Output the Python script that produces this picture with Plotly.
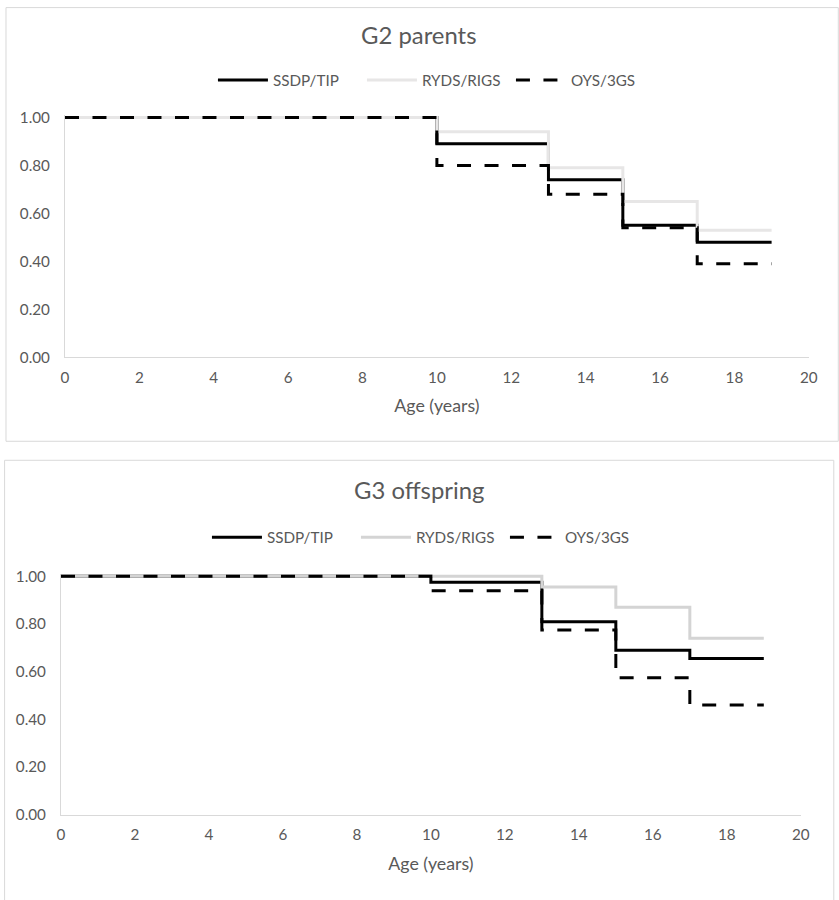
import plotly.graph_objects as go

# ---- data ----
ages = [0, 10, 13, 15, 17, 19]
series_names = ["SSDP/TIP", "RYDS/RIGS", "OYS/3GS"]

g2_ssdp = [1.00, 0.89, 0.74, 0.55, 0.48, 0.48]
g2_ryds = [1.00, 0.94, 0.79, 0.65, 0.53, 0.53]
g2_oys = [1.00, 0.80, 0.68, 0.54, 0.39, 0.39]

g3_ssdp = [1.00, 0.975, 0.81, 0.69, 0.655, 0.655]
g3_ryds = [1.00, 1.00, 0.955, 0.87, 0.74, 0.74]
g3_oys = [1.00, 0.94, 0.775, 0.575, 0.46, 0.46]

x_ticks = [0, 2, 4, 6, 8, 10, 12, 14, 16, 18, 20]
y_ticks = [0.0, 0.2, 0.4, 0.6, 0.8, 1.0]

titles = ["G2 parents", "G3 offspring"]
x_title = "Age (years)"

# page geometry (compensates for how the page is captured)
FW, FH = 852, 916
SX, SY = 0.985, 0.983
OX, OY = 3.0, 6.0
FS = 1 / 0.984

FONT = "Lato"
GREY_TXT = "#595959"
AXIS_C = "#d9d9d9"


def tx(t):
    return (t - OX) / SX


def ty(t):
    return (t - OY) / SY


def px_x(t):
    return tx(t) / FW


def px_y(t):
    return 1 - ty(t) / FH


fig = go.Figure()

panels = [
    dict(data=[g2_ssdp, g2_ryds, g2_oys], ryds_col="#e7e6e6", xd=(64, 808), yd=(114, 356),
         legend="legend", xa="x", ya="y", title_y=33, legend_y=79, legend_x=212),
    dict(data=[g3_ssdp, g3_ryds, g3_oys], ryds_col="#d4d4d4", xd=(60, 800), yd=(572.6, 813.3),
         legend="legend2", xa="x2", ya="y2", title_y=488, legend_y=536, legend_x=206),
]

for i, p in enumerate(panels):
    styles = [
        dict(color="black", width=3),
        dict(color=p["ryds_col"], width=3),
        dict(color="black", width=3, dash="14px,13.5px"),
    ]
    for name, vals, st in zip(series_names, p["data"], styles):
        fig.add_trace(go.Scatter(
            x=ages, y=vals, mode="lines", name=name,
            line=dict(shape="hv", **st),
            xaxis=p["xa"], yaxis=p["ya"], legend=p["legend"],
            hoverinfo="skip",
        ))

axis_common = dict(showgrid=False, zeroline=False, showline=True, linecolor=AXIS_C, linewidth=1,
                   tickfont=dict(family=FONT, size=15 * FS, color=GREY_TXT), ticks="")

layout = dict(
    width=FW, height=FH, margin=dict(l=0, r=0, t=0, b=0),
    paper_bgcolor="white", plot_bgcolor="white", showlegend=True,
    font=dict(family=FONT, color=GREY_TXT),
)

for i, p in enumerate(panels):
    suffix = "" if i == 0 else "2"
    layout["xaxis" + suffix] = dict(
        axis_common, domain=[px_x(p["xd"][0]), px_x(p["xd"][1])], range=[0, 20],
        tickvals=x_ticks, anchor="y" + suffix, ticklabelstandoff=6,
        title=dict(text=x_title, font=dict(family=FONT, size=17.5 * FS, color=GREY_TXT), standoff=15),
    )
    layout["yaxis" + suffix] = dict(
        axis_common, domain=[px_y(p["yd"][1]), px_y(p["yd"][0])], range=[0, 1.01],
        tickvals=y_ticks, tickformat=".2f", anchor="x" + suffix, ticklabelstandoff=11,
    )
    layout[p["legend"]] = dict(
        orientation="h", x=px_x(p["legend_x"]), xanchor="left", y=px_y(p["legend_y"]), yanchor="middle",
        font=dict(family=FONT, size=15 * FS, color=GREY_TXT), bgcolor="rgba(0,0,0,0)",
        itemwidth=50, entrywidth=84, traceorder="normal",
    )

fig.update_layout(**layout)

# chart titles
for i, p in enumerate(panels):
    fig.add_annotation(text=titles[i], xref="paper", yref="paper", x=px_x(418), y=px_y(p["title_y"]),
                       xanchor="center", yanchor="middle", showarrow=False,
                       font=dict(family=FONT, size=23.5 * FS, color=GREY_TXT))

# chart frames
fig.add_shape(type="rect", xref="paper", yref="paper", x0=px_x(5), x1=px_x(837.5), y0=px_y(440), y1=px_y(6.6),
              line=dict(color=AXIS_C, width=1), layer="below")
fig.add_shape(type="rect", xref="paper", yref="paper", x0=px_x(3.6), x1=px_x(833), y0=px_y(899), y1=px_y(459),
              line=dict(color=AXIS_C, width=1), layer="below")

page_fix = (
    "document.documentElement.style.margin='0';document.documentElement.style.overflow='hidden';"
    "document.body.style.margin='0';document.body.style.overflow='hidden';"
    "var gd=document.getElementById('{plot_id}');"
    "gd.style.position='fixed';gd.style.left='0px';gd.style.top='0px';"
)

fig.write_html("out.html", config={"displayModeBar": False}, post_script=page_fix)
